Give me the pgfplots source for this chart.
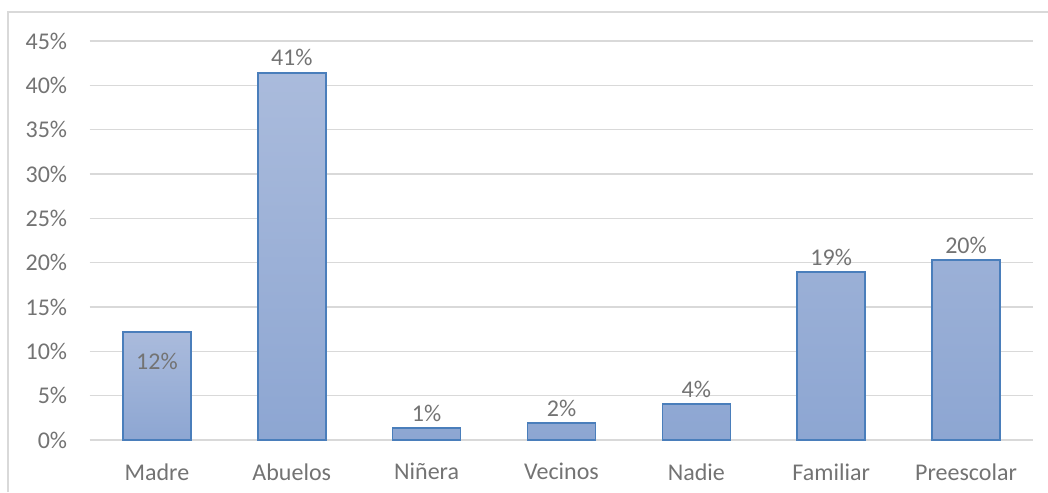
\documentclass[border=0pt]{standalone}
\usepackage{pgfplots}
\pgfplotsset{compat=1.18}
\usepackage{fontspec}
\setmainfont{Carlito}
\definecolor{txt}{HTML}{737373}
\definecolor{gridc}{HTML}{D9D9D9}
\definecolor{bartop}{HTML}{AABBDC}
\definecolor{barbot}{HTML}{8DA6D2}
\definecolor{barline}{HTML}{4A7EBB}
\begin{document}
\begin{tikzpicture}[font=\fontsize{12}{14}\selectfont]
\begin{axis}[
  at={(44.75pt,26pt)}, anchor=south west,
  scale only axis, width=472pt, height=199.5pt,
  xmin=-0.5, xmax=6.5, ymin=0, ymax=45,
  ybar, bar width=34pt, bar shift=0pt,
  axis line style={draw=none},
  major tick length=0pt,
  xtick={0,1,2,3,4,5,6},
  xticklabels={Madre,Abuelos,Niñera,Vecinos,Nadie,Familiar,Preescolar},
  ytick={0,5,10,15,20,25,30,35,40,45},
  yticklabels={0\%,5\%,10\%,15\%,20\%,25\%,30\%,35\%,40\%,45\%},
  xmajorgrids=false, ymajorgrids=true,
  major grid style={draw=gridc, line width=0.75pt},
  xticklabel style={inner sep=0pt, anchor=north, yshift=-11.5pt, text=txt},
  yticklabel style={inner sep=0pt, anchor=east, xshift=-11pt, text=txt},
  point meta=explicit symbolic,
  nodes near coords,
  every node near coord/.append style={text=txt, inner sep=0pt},
  clip=false,
]
\addplot[draw=barline, line width=0.75pt, top color=bartop, bottom color=barbot,
  every node near coord/.append style={anchor=north, yshift=-10.5pt}]
  coordinates {(0,12.2)[12\%]};
\addplot[draw=barline, line width=0.75pt, top color=bartop, bottom color=barbot,
  every node near coord/.append style={anchor=south, yshift=3pt}]
  coordinates {(1,41.4)[41\%] (2,1.35)[1\%] (3,1.92)[2\%] (4,4.06)[4\%] (5,18.95)[19\%] (6,20.3)[20\%]};
\end{axis}
\draw[gridc, line width=0.9pt] (4pt,0pt) -- (4pt,240pt) -- (524pt,240pt);
\pgfresetboundingbox
\path (0,0) rectangle (524pt,246pt);
\end{tikzpicture}
\end{document}
